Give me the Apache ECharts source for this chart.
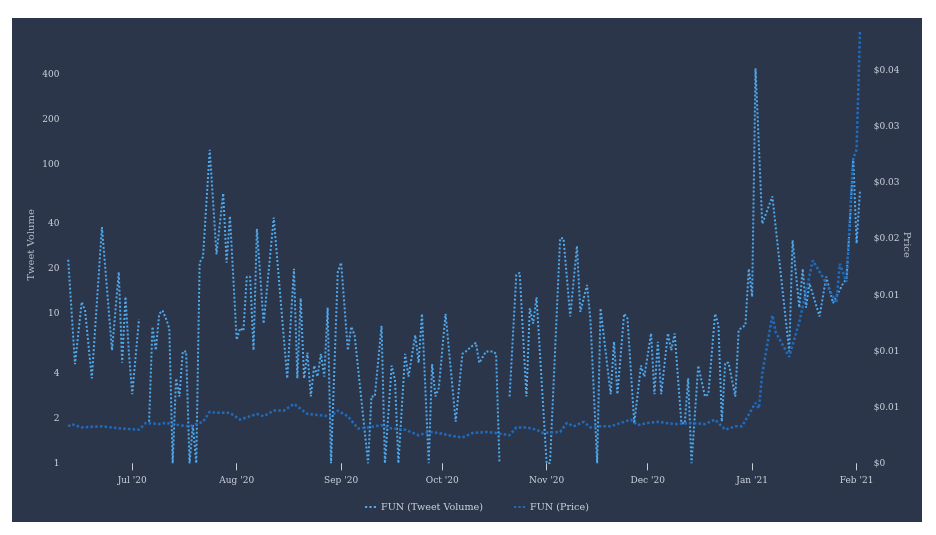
<!DOCTYPE html>
<html><head><meta charset="utf-8">
<script src="https://cdn.jsdelivr.net/npm/echarts@6/dist/echarts.min.js"></script>
<style>
html,body{margin:0;padding:0;background:#ffffff;width:936px;height:535px;overflow:hidden}
#c{position:absolute;left:12px;top:18px;width:910px;height:504px;}
</style></head>
<body><div id="c"></div>
<script>
// ---- data ----
const tweetDates = ['2020-06-12','2020-06-14','2020-06-16','2020-06-17','2020-06-19','2020-06-22','2020-06-25','2020-06-27','2020-06-28','2020-06-29','2020-06-30','2020-07-01','2020-07-03','2020-07-04','2020-07-05','2020-07-06','2020-07-07','2020-07-08','2020-07-09','2020-07-10','2020-07-11','2020-07-12','2020-07-13','2020-07-14','2020-07-15','2020-07-16','2020-07-17','2020-07-18','2020-07-19','2020-07-20','2020-07-21','2020-07-22','2020-07-24','2020-07-25','2020-07-26','2020-07-28','2020-07-29','2020-07-30','2020-08-01','2020-08-02','2020-08-03','2020-08-04','2020-08-05','2020-08-06','2020-08-07','2020-08-09','2020-08-12','2020-08-16','2020-08-18','2020-08-19','2020-08-20','2020-08-21','2020-08-22','2020-08-23','2020-08-24','2020-08-25','2020-08-26','2020-08-27','2020-08-28','2020-08-29','2020-08-31','2020-09-01','2020-09-03','2020-09-04','2020-09-05','2020-09-09','2020-09-10','2020-09-11','2020-09-13','2020-09-14','2020-09-16','2020-09-17','2020-09-18','2020-09-20','2020-09-21','2020-09-23','2020-09-24','2020-09-25','2020-09-27','2020-09-28','2020-09-29','2020-09-30','2020-10-02','2020-10-05','2020-10-07','2020-10-08','2020-10-11','2020-10-12','2020-10-14','2020-10-16','2020-10-17','2020-10-18','2020-10-19','2020-10-20','2020-10-21','2020-10-23','2020-10-24','2020-10-26','2020-10-27','2020-10-28','2020-10-29','2020-11-01','2020-11-02','2020-11-05','2020-11-06','2020-11-08','2020-11-10','2020-11-11','2020-11-13','2020-11-14','2020-11-16','2020-11-17','2020-11-20','2020-11-21','2020-11-22','2020-11-24','2020-11-25','2020-11-27','2020-11-29','2020-11-30','2020-12-02','2020-12-03','2020-12-04','2020-12-05','2020-12-07','2020-12-08','2020-12-09','2020-12-11','2020-12-12','2020-12-13','2020-12-14','2020-12-16','2020-12-18','2020-12-19','2020-12-21','2020-12-22','2020-12-23','2020-12-24','2020-12-25','2020-12-27','2020-12-28','2020-12-30','2020-12-31','2021-01-01','2021-01-02','2021-01-04','2021-01-07','2021-01-12','2021-01-13','2021-01-15','2021-01-16','2021-01-17','2021-01-18','2021-01-21','2021-01-23','2021-01-25','2021-01-28','2021-01-29','2021-01-30','2021-01-31','2021-02-01','2021-02-02'];
const tweetValues = [23,4.6,12,10.5,3.7,38,5.7,19,4.7,13,5.5,2.9,9.2,null,null,1.9,8.2,5.7,10,10.5,9.3,8,1,3.7,2.8,5.6,5.6,1,1.8,1,22,24,125,56,25,64,22,45,6.7,8,7.7,17.7,17.7,5.7,37,8.6,44,3.7,20,3.7,12.7,3.7,5.5,2.8,4.5,3.8,5.4,3.8,11,1,19,22,5.7,8.2,7.2,1,2.8,2.8,8.3,1,4.5,3.6,1,5.4,3.8,7.2,4.7,10,1,4.6,2.8,3.2,10,1.9,5.4,5.6,6.4,4.7,5.6,5.6,5.4,1,null,null,2.8,18.2,18.8,2.8,10.9,8.6,12.9,1,1,32,32,9.6,28.4,10.3,15.6,9.1,1,10.9,2.9,6.5,2.9,10,9.3,1.85,4.5,3.8,7.4,2.9,6.5,2.9,7.4,5.7,7.4,1.85,1.85,3.7,1,4.5,2.8,2.9,10,8.4,1.9,4.7,4.7,2.8,7.8,8.4,20,13,438,40,61,5.6,31,11,20,11,16,9.6,17.7,11.8,16,17,40,110,29.6,66];

const priceDates = ['2020-06-12','2020-06-13','2020-06-16','2020-06-22','2020-06-28','2020-07-03','2020-07-05','2020-07-09','2020-07-11','2020-07-15','2020-07-18','2020-07-22','2020-07-24','2020-07-26','2020-07-30','2020-08-02','2020-08-04','2020-08-07','2020-08-09','2020-08-12','2020-08-15','2020-08-18','2020-08-22','2020-08-25','2020-08-29','2020-08-31','2020-09-03','2020-09-06','2020-09-09','2020-09-13','2020-09-16','2020-09-20','2020-09-24','2020-09-27','2020-09-30','2020-10-03','2020-10-07','2020-10-10','2020-10-14','2020-10-17','2020-10-21','2020-10-23','2020-10-26','2020-10-29','2020-10-31','2020-11-05','2020-11-07','2020-11-09','2020-11-12','2020-11-14','2020-11-17','2020-11-20','2020-11-23','2020-11-26','2020-11-28','2020-12-01','2020-12-04','2020-12-09','2020-12-14','2020-12-18','2020-12-21','2020-12-24','2020-12-27','2020-12-29','2021-01-02','2021-01-03','2021-01-04','2021-01-07','2021-01-08','2021-01-12','2021-01-15','2021-01-19','2021-01-22','2021-01-26','2021-01-27','2021-01-29','2021-01-31','2021-02-01','2021-02-02'];
const priceValues = [0.0033,0.0035,0.0032,0.0033,0.0031,0.0030,0.0036,0.0035,0.0036,0.0034,0.0033,0.0037,0.0046,0.0045,0.0045,0.0039,0.0041,0.0044,0.0042,0.0047,0.0047,0.0053,0.0044,0.0043,0.0042,0.0047,0.0042,0.0031,0.0032,0.0034,0.0031,0.0030,0.0025,0.0028,0.0027,0.0025,0.0023,0.0027,0.0028,0.0027,0.0025,0.0032,0.0032,0.0030,0.0027,0.0028,0.0036,0.0033,0.0037,0.0032,0.0033,0.0033,0.0036,0.0039,0.0034,0.0036,0.0037,0.0035,0.0036,0.0035,0.0039,0.0030,0.0033,0.0033,0.0054,0.0049,0.0080,0.0132,0.0117,0.0095,0.0126,0.0181,0.0166,0.0143,0.0178,0.0162,0.0272,0.0280,0.0385];

const monthTickDates = ['2020-07-01','2020-08-01','2020-09-01','2020-10-01','2020-11-01','2020-12-01','2021-01-01','2021-02-01'];
const monthTickLabels = ["Jul '20","Aug '20","Sep '20","Oct '20","Nov '20","Dec '20","Jan '21","Feb '21"];
const volumeTicks = [1,2,4,10,20,40,100,200,400];
const priceTicks = [0,0.005,0.01,0.015,0.02,0.025,0.03,0.035];
const priceTickLabels = ['$0','$0.01','$0.01','$0.01','$0.02','$0.03','$0.03','$0.04'];

function ts(s){const p=s.split('-').map(Number);return Date.UTC(p[0],p[1]-1,p[2]);}
const monthTickTimes = monthTickDates.map(ts);

const FONT = 'DejaVu Serif';
const LABEL = '#c9ced7';
const NAMEC = '#b4bac5';
const DOTS = 'path://M0,0h2v2h-2z M4,0h2v2h-2z M8,0h2v2h-2z';

const chart = echarts.init(document.getElementById('c'), null, {renderer:'canvas'});
chart.setOption({
  backgroundColor:'#2c364b',
  animation:false,
  textStyle:{fontFamily:FONT},
  grid:{left:49.5,right:55.3,top:8.2,bottom:58.7,containLabel:false,outerBoundsMode:'none'},
  legend:{
    left:348, top:479, itemWidth:11, itemHeight:2.4, itemGap:31,
    textStyle:{color:LABEL,fontSize:9.6,fontFamily:FONT},
    data:[{name:'FUN (Tweet Volume)',icon:DOTS},{name:'FUN (Price)',icon:DOTS}]
  },
  xAxis:{
    type:'value', min:ts('2020-06-10'), max:ts('2021-02-04'), offset:5,
    axisLine:{show:false},
    axisTick:{show:true,length:7,lineStyle:{color:'#c9ced7',width:1},customValues:monthTickTimes},
    splitLine:{show:false},
    axisLabel:{color:LABEL,fontSize:9,fontFamily:FONT,margin:8,customValues:monthTickTimes,
      formatter:function(v){let best=-1,bd=Infinity;monthTickTimes.forEach((t,i)=>{const d=Math.abs(t-v);if(d<bd){bd=d;best=i;}});return bd<86400000*2?monthTickLabels[best]:'';}}
  },
  yAxis:[{
    type:'log', logBase:10, min:1, max:839, position:'left',
    name:'Tweet Volume', nameLocation:'middle', nameGap:25, nameRotate:90, nameMoveOverlap:false,
    nameTextStyle:{color:NAMEC,fontSize:10,fontFamily:FONT},
    axisLine:{show:false}, axisTick:{show:false}, splitLine:{show:false},
    axisLabel:{color:LABEL,fontSize:9,fontFamily:FONT,margin:2,customValues:volumeTicks,
      formatter:function(v){return String(Math.round(v));}}
  },{
    type:'value', min:0, max:0.039, position:'right',
    name:'Price', nameLocation:'middle', nameGap:35, nameRotate:-90, nameMoveOverlap:false,
    nameTextStyle:{color:NAMEC,fontSize:10,fontFamily:FONT},
    axisLine:{show:false}, axisTick:{show:false}, splitLine:{show:false},
    axisLabel:{color:LABEL,fontSize:9,fontFamily:FONT,margin:7,customValues:priceTicks,
      formatter:function(v){const i=Math.round(v/0.005);return priceTickLabels[i]!==undefined?priceTickLabels[i]:'';}}
  }],
  series:[{
    name:'FUN (Tweet Volume)', type:'line', yAxisIndex:0, showSymbol:false, symbol:'none',
    connectNulls:false,
    lineStyle:{color:'#4ea8ea',width:2,type:[2,2],cap:'butt'},
    itemStyle:{color:'#4ea8ea'},
    data:tweetDates.map((d,i)=>[ts(d),tweetValues[i]===null?'-':tweetValues[i]])
  },{
    name:'FUN (Price)', type:'line', yAxisIndex:1, showSymbol:false, symbol:'none',
    lineStyle:{color:'#1f6cbf',width:2.5,type:[2.5,2.2],cap:'butt'},
    itemStyle:{color:'#1f6cbf'},
    data:priceDates.map((d,i)=>[ts(d),priceValues[i]])
  }]
});
</script></body></html>
